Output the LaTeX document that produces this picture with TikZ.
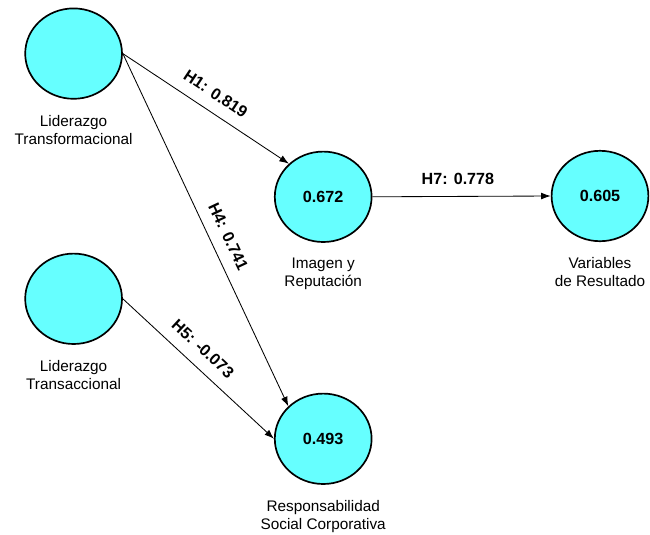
\documentclass[tikz,border=0pt]{standalone}
\usepackage{fontspec}
\setmainfont{Liberation Sans}
\usetikzlibrary{arrows.meta,positioning,shapes.geometric}

\definecolor{lvfill}{RGB}{102,255,255}

\begin{document}
\begin{tikzpicture}[
    latent/.style={draw, ellipse, line width=1.2pt, fill=lvfill, minimum width=2.42cm, minimum height=2.26cm, inner sep=0pt, font=\fontsize{11.5}{13}\selectfont\bfseries},
    caption/.style={align=center, inner sep=0pt, font=\fontsize{10.9}{12.8}\selectfont},
    path/.style={-{Latex[length=2.4mm, width=1.7mm]}, line width=0.6pt},
    coef/.style={sloped, above=5pt, font=\fontsize{11.5}{13}\selectfont\bfseries}
]
\useasboundingbox (0,0) rectangle (16.25,13.35);

% The constructs
\node[latent] (trf) at (1.84, 12.01) {};
\node[latent] (trc) at (1.84, 5.88) {};
\node[latent] (img) at (8.08, 8.43) {0.672};
\node[latent] (rsc) at (8.08, 2.38) {0.493};
\node[latent] (vr) at (15.0, 8.45) {0.605};

% Captions
\node[caption, below=0.38cm of trf] (trf-l) {Liderazgo\\Transformacional};
\node[caption, below=0.38cm of trc] (trc-l) {Liderazgo\\Transaccional};
\node[caption, below=0.38cm of img] (img-l) {Imagen y\\Reputaci\'on};
\node[caption, below=0.38cm of rsc] (rsc-l) {Responsabilidad\\Social Corporativa};
\node[caption, below=0.38cm of vr] (vr-l) {Variables\\de Resultado};

% Paths
\draw[path] (trf.east) -- node[coef, pos=0.5] {H1: 0.819} (img.136);
\draw[path] (trf.east) -- node[coef, pos=0.54] {H4: 0.741} (rsc.137);
\draw[path] (trc.east) -- node[coef, pos=0.45] {H5: -0.073} (rsc.west);
\draw[path] (img.east) -- node[coef, pos=0.48] {H7: 0.778} (vr.west);

\end{tikzpicture}
\end{document}
